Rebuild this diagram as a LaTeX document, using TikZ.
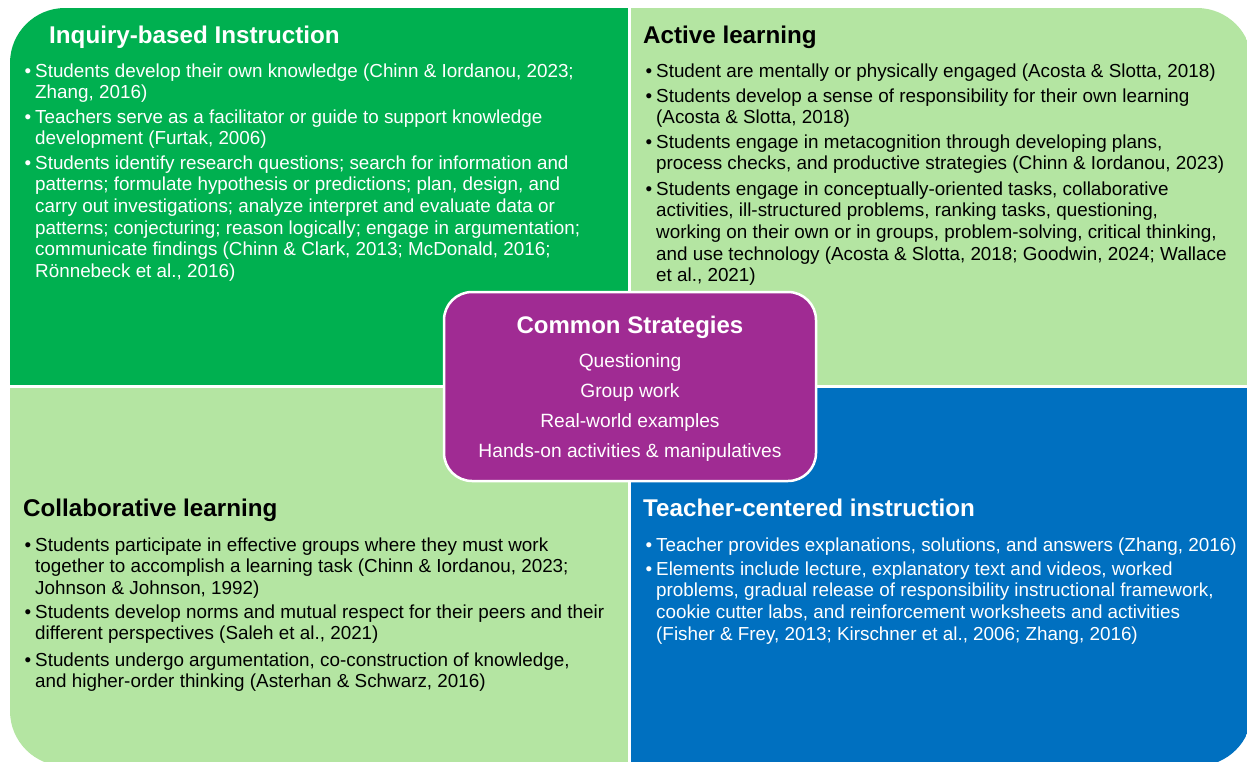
\documentclass[tikz,border=0pt]{standalone}
\usepackage{fontspec}
\setmainfont{Liberation Sans}
\definecolor{dkgreen}{HTML}{00B050}
\definecolor{ltgreen}{HTML}{B4E5A2}
\definecolor{stdblue}{HTML}{0070C0}
\definecolor{plum}{HTML}{A02B93}
\newcommand{\bmark}{\llap{\textbullet\hspace{4pt}}}
\tikzset{
  paneltitle/.style={anchor=base west, inner sep=0pt, font=\fontsize{24.2}{28}\selectfont\bfseries},
  bodytext/.style={anchor=north west, inner sep=0pt, align=left, font=\fontsize{18.85}{21.6}\selectfont},
  centerbox/.style={draw=white, line width=2.5pt, fill=plum, rounded corners=28pt},
  centertitle/.style={anchor=base, inner sep=0pt, text=white, font=\fontsize{24}{28}\selectfont\bfseries},
  centeritem/.style={anchor=base, inner sep=0pt, text=white, font=\fontsize{19.2}{22}\selectfont},
  divider/.style={white, line width=2.5pt},
}
\begin{document}
\begin{tikzpicture}[x=1pt, y=-1pt]
\useasboundingbox (0,0) rectangle (1247,761);

% four quadrants inside one rounded outline
\begin{scope}
  \clip[rounded corners=55pt] (10,8) rectangle (1252,766);
  \fill[dkgreen] (0,0) rectangle (629.5,386.5);
  \fill[ltgreen] (629.5,0) rectangle (1260,386.5);
  \fill[ltgreen] (0,386.5) rectangle (629.5,770);
  \fill[stdblue] (629.5,386.5) rectangle (1260,770);
\end{scope}
\draw[divider] (629.5,0) -- (629.5,770);
\draw[divider] (0,386.5) -- (1260,386.5);

% top left: inquiry-based instruction
\node[paneltitle, text=white] (ibiT) at (49,43) {Inquiry-based Instruction};
\node[bodytext, text=white] (ibi1) at (35,63.5) {\bmark Students develop their own knowledge (Chinn \& Iordanou, 2023;\\Zhang, 2016)};
\node[bodytext, text=white] (ibi2) at (35,109.5) {\bmark Teachers serve as a facilitator or guide to support knowledge\\development (Furtak, 2006)};
\node[bodytext, text=white] (ibi3) at (35,155.5) {\bmark Students identify research questions; search for information and\\patterns; formulate hypothesis or predictions; plan, design, and\\carry out investigations; analyze interpret and evaluate data or\\patterns; conjecturing; reason logically; engage in argumentation;\\communicate findings (Chinn \& Clark, 2013; McDonald, 2016;\\Rönnebeck et al., 2016)};

% top right: active learning
\node[paneltitle] (actT) at (643,43) {Active learning};
\node[bodytext] (act1) at (656,63.5) {\bmark Student are mentally or physically engaged (Acosta \& Slotta, 2018)};
\node[bodytext] (act2) at (656,88.5) {\bmark Students develop a sense of responsibility for their own learning\\(Acosta \& Slotta, 2018)};
\node[bodytext] (act3) at (656,134.5) {\bmark Students engage in metacognition through developing plans,\\process checks, and productive strategies (Chinn \& Iordanou, 2023)};
\node[bodytext] (act4) at (656,181.5) {\bmark Students engage in conceptually-oriented tasks, collaborative\\activities, ill-structured problems, ranking tasks, questioning,\\working on their own or in groups, problem-solving, critical thinking,\\and use technology (Acosta \& Slotta, 2018; Goodwin, 2024; Wallace\\et al., 2021)};

% bottom left: collaborative learning
\node[paneltitle] (colT) at (23,516) {Collaborative learning};
\node[bodytext] (col1) at (35,537.5) {\bmark Students participate in effective groups where they must work\\together to accomplish a learning task (Chinn \& Iordanou, 2023;\\Johnson \& Johnson, 1992)};
\node[bodytext] (col2) at (35,604.5) {\bmark Students develop norms and mutual respect for their peers and their\\different perspectives (Saleh et al., 2021)};
\node[bodytext] (col3) at (35,652.5) {\bmark Students undergo argumentation, co-construction of knowledge,\\and higher-order thinking (Asterhan \& Schwarz, 2016)};

% bottom right: teacher-centered instruction
\node[paneltitle, text=white] (tciT) at (643,516) {Teacher-centered instruction};
\node[bodytext, text=white] (tci1) at (656,537.5) {\bmark Teacher provides explanations, solutions, and answers (Zhang, 2016)};
\node[bodytext, text=white] (tci2) at (656,561.5) {\bmark Elements include lecture, explanatory text and videos, worked\\problems, gradual release of responsibility instructional framework,\\cookie cutter labs, and reinforcement worksheets and activities\\(Fisher \& Frey, 2013; Kirschner et al., 2006; Zhang, 2016)};

% shared strategies in the middle
\path[centerbox] (444,292) rectangle (816,481);
\node[centertitle] (cs) at (630,333) {Common Strategies};
\node[centeritem] (cs1) at (630,367) {Questioning};
\node[centeritem] (cs2) at (630,397) {Group work};
\node[centeritem] (cs3) at (630,427) {Real-world examples};
\node[centeritem] (cs4) at (630,457) {Hands-on activities \& manipulatives};
\end{tikzpicture}
\end{document}
